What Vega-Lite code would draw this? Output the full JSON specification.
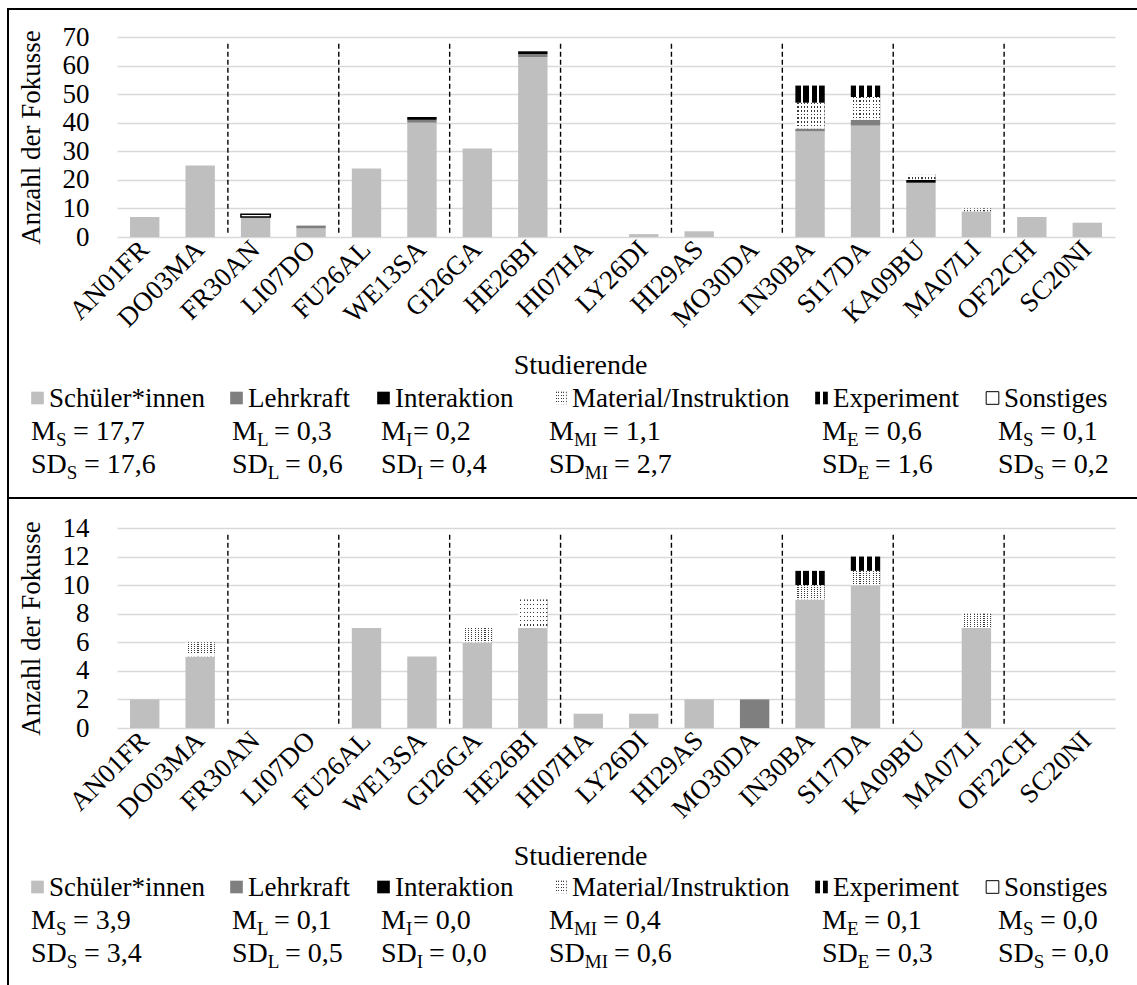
{
  "$schema": "https://vega.github.io/schema/vega-lite/v6.json",
  "padding": {"left": 7, "top": 8, "right": 0, "bottom": 0},
  "background": "white",
  "config": {
    "font": "Liberation Serif",
    "view": {"stroke": null},
    "axis": {"labelColor": "#000000", "titleColor": "#000000", "labelFont": "Liberation Serif", "titleFont": "Liberation Serif", "titleFontWeight": "normal", "domain": false, "ticks": false, "labelOverlap": false},
    "axisY": {"labelOverlap": false},
    "axisQuantitative": {"labelOverlap": false},
    "text": {"font": "Liberation Serif", "color": "#000000"}
  },
  "datasets": {
    "cats": [
      {"c": "Schüler*innen", "rank": 1},
      {"c": "Lehrkraft", "rank": 2},
      {"c": "Interaktion", "rank": 3},
      {"c": "Material/Instruktion", "rank": 4},
      {"c": "Experiment", "rank": 5},
      {"c": "Sonstiges", "rank": 6}
    ],
    "seps": [{"s": "FR30AN"}, {"s": "FU26AL"}, {"s": "GI26GA"}, {"s": "HI07HA"}, {"s": "HI29AS"}, {"s": "IN30BA"}, {"s": "KA09BU"}, {"s": "OF22CH"}],
    "top": [
      {"s": "AN01FR", "c": "Schüler*innen", "v": 7},
      {"s": "DO03MA", "c": "Schüler*innen", "v": 25},
      {"s": "FR30AN", "c": "Schüler*innen", "v": 7},
      {"s": "FR30AN", "c": "Sonstiges", "v": 1},
      {"s": "LI07DO", "c": "Schüler*innen", "v": 3},
      {"s": "LI07DO", "c": "Lehrkraft", "v": 1},
      {"s": "FU26AL", "c": "Schüler*innen", "v": 24},
      {"s": "WE13SA", "c": "Schüler*innen", "v": 40},
      {"s": "WE13SA", "c": "Lehrkraft", "v": 1},
      {"s": "WE13SA", "c": "Interaktion", "v": 1},
      {"s": "GI26GA", "c": "Schüler*innen", "v": 31},
      {"s": "HE26BI", "c": "Schüler*innen", "v": 63},
      {"s": "HE26BI", "c": "Lehrkraft", "v": 1},
      {"s": "HE26BI", "c": "Interaktion", "v": 1},
      {"s": "LY26DI", "c": "Schüler*innen", "v": 1},
      {"s": "HI29AS", "c": "Schüler*innen", "v": 2},
      {"s": "IN30BA", "c": "Schüler*innen", "v": 37},
      {"s": "IN30BA", "c": "Lehrkraft", "v": 1},
      {"s": "IN30BA", "c": "Material/Instruktion", "v": 9},
      {"s": "IN30BA", "c": "Experiment", "v": 6},
      {"s": "SI17DA", "c": "Schüler*innen", "v": 39},
      {"s": "SI17DA", "c": "Lehrkraft", "v": 2},
      {"s": "SI17DA", "c": "Material/Instruktion", "v": 8},
      {"s": "SI17DA", "c": "Experiment", "v": 4},
      {"s": "KA09BU", "c": "Schüler*innen", "v": 19},
      {"s": "KA09BU", "c": "Interaktion", "v": 1},
      {"s": "KA09BU", "c": "Material/Instruktion", "v": 2},
      {"s": "MA07LI", "c": "Schüler*innen", "v": 9},
      {"s": "MA07LI", "c": "Material/Instruktion", "v": 1},
      {"s": "OF22CH", "c": "Schüler*innen", "v": 7},
      {"s": "SC20NI", "c": "Schüler*innen", "v": 5}
    ],
    "bottom": [
      {"s": "AN01FR", "c": "Schüler*innen", "v": 2},
      {"s": "DO03MA", "c": "Schüler*innen", "v": 5},
      {"s": "DO03MA", "c": "Material/Instruktion", "v": 1},
      {"s": "FU26AL", "c": "Schüler*innen", "v": 7},
      {"s": "WE13SA", "c": "Schüler*innen", "v": 5},
      {"s": "GI26GA", "c": "Schüler*innen", "v": 6},
      {"s": "GI26GA", "c": "Material/Instruktion", "v": 1},
      {"s": "HE26BI", "c": "Schüler*innen", "v": 7},
      {"s": "HE26BI", "c": "Material/Instruktion", "v": 2},
      {"s": "HI07HA", "c": "Schüler*innen", "v": 1},
      {"s": "LY26DI", "c": "Schüler*innen", "v": 1},
      {"s": "HI29AS", "c": "Schüler*innen", "v": 2},
      {"s": "MO30DA", "c": "Lehrkraft", "v": 2},
      {"s": "IN30BA", "c": "Schüler*innen", "v": 9},
      {"s": "IN30BA", "c": "Material/Instruktion", "v": 1},
      {"s": "IN30BA", "c": "Experiment", "v": 1},
      {"s": "SI17DA", "c": "Schüler*innen", "v": 10},
      {"s": "SI17DA", "c": "Material/Instruktion", "v": 1},
      {"s": "SI17DA", "c": "Experiment", "v": 1},
      {"s": "MA07LI", "c": "Schüler*innen", "v": 7},
      {"s": "MA07LI", "c": "Material/Instruktion", "v": 1}
    ],
    "statsTop": [
      {"col": 1, "r": "M", "b": "M", "sub": "S", "val": "= 17,7"},
      {"col": 1, "r": "SD", "b": "SD", "sub": "S", "val": "= 17,6"},
      {"col": 2, "r": "M", "b": "M", "sub": "L", "val": "= 0,3"},
      {"col": 2, "r": "SD", "b": "SD", "sub": "L", "val": "= 0,6"},
      {"col": 3, "r": "M", "b": "M", "sub": "I", "val": "= 0,2"},
      {"col": 3, "r": "SD", "b": "SD", "sub": "I", "val": "= 0,4"},
      {"col": 4, "r": "M", "b": "M", "sub": "MI", "val": "= 1,1"},
      {"col": 4, "r": "SD", "b": "SD", "sub": "MI", "val": "= 2,7"},
      {"col": 5, "r": "M", "b": "M", "sub": "E", "val": "= 0,6"},
      {"col": 5, "r": "SD", "b": "SD", "sub": "E", "val": "= 1,6"},
      {"col": 6, "r": "M", "b": "M", "sub": "S", "val": "= 0,1"},
      {"col": 6, "r": "SD", "b": "SD", "sub": "S", "val": "= 0,2"}
    ],
    "statsBottom": [
      {"col": 1, "r": "M", "b": "M", "sub": "S", "val": "= 3,9"},
      {"col": 1, "r": "SD", "b": "SD", "sub": "S", "val": "= 3,4"},
      {"col": 2, "r": "M", "b": "M", "sub": "L", "val": "= 0,1"},
      {"col": 2, "r": "SD", "b": "SD", "sub": "L", "val": "= 0,5"},
      {"col": 3, "r": "M", "b": "M", "sub": "I", "val": "= 0,0"},
      {"col": 3, "r": "SD", "b": "SD", "sub": "I", "val": "= 0,0"},
      {"col": 4, "r": "M", "b": "M", "sub": "MI", "val": "= 0,4"},
      {"col": 4, "r": "SD", "b": "SD", "sub": "MI", "val": "= 0,6"},
      {"col": 5, "r": "M", "b": "M", "sub": "E", "val": "= 0,1"},
      {"col": 5, "r": "SD", "b": "SD", "sub": "E", "val": "= 0,3"},
      {"col": 6, "r": "M", "b": "M", "sub": "S", "val": "= 0,0"},
      {"col": 6, "r": "SD", "b": "SD", "sub": "S", "val": "= 0,0"}
    ]
  },
  "columns": 2,
  "align": "each",
  "bounds": "flush",
  "spacing": 0,
  "resolve": {"scale": {"x": "independent", "y": "independent"}},
  "concat": [
    {"width": 109, "height": 28, "data": {"values": []}, "mark": "point", "view": {"stroke": "#000000", "strokeWidth": 2, "strokeDash": [109, 137, 28]}},
    {"width": 1021, "height": 28, "data": {"values": []}, "mark": "point", "view": {"stroke": "#000000", "strokeWidth": 2, "strokeDash": [1021, 4000]}},
    {"width": 109, "height": 200, "data": {"values": []}, "mark": "point", "view": {"stroke": "#000000", "strokeWidth": 2, "strokeDash": [0, 418, 200]}},
    {
      "width": 998, "height": 200,
      "layer": [
        {
          "data": {"name": "top"},
          "transform": [{"lookup": "c", "from": {"data": {"name": "cats"}, "key": "c", "fields": ["rank"]}}],
          "mark": {"type": "bar", "strokeWidth": 1.5},
          "encoding": {
            "x": {"field": "s", "type": "nominal", "sort": null,
              "scale": {"domain": ["AN01FR","DO03MA","FR30AN","LI07DO","FU26AL","WE13SA","GI26GA","HE26BI","HI07HA","LY26DI","HI29AS","MO30DA","IN30BA","SI17DA","KA09BU","MA07LI","OF22CH","SC20NI"], "paddingInner": 0.47, "paddingOuter": 0.235},
              "axis": {"title": "Studierende", "labelAngle": -45, "labelAlign": "right", "labelBaseline": "middle", "labelFontSize": 27, "labelPadding": 8, "labelOverlap": false, "labelFlush": false, "titleFontSize": 28, "titleX": 463, "titleY": 136, "titleBaseline": "alphabetic", "grid": false}},
            "y": {"field": "v", "type": "quantitative", "stack": "zero",
              "scale": {"domain": [0, 70], "nice": false},
              "axis": {"title": "Anzahl der Fokusse", "values": [0, 10, 20, 30, 40, 50, 60, 70], "labelOverlap": false, "labelFontSize": 27, "labelPadding": 28, "titleFontSize": 27, "titlePadding": 17, "grid": true, "gridColor": "#d9d9d9", "gridWidth": 1.5}},
            "fill": {"field": "c", "type": "nominal", "legend": null,
              "scale": {"domain": ["Schüler*innen","Lehrkraft","Interaktion","Material/Instruktion","Experiment","Sonstiges"], "range": ["#bfbfbf","#7f7f7f","#000000","#d9d9d9","#000000","#ffffff"]},
              "condition": [
                {"test": "datum.c === 'Material/Instruktion'", "value": {"gradient": "linear", "x1": 0, "y1": 0, "x2": 1, "y2": 0, "stops": [
                  {"offset": 0, "color": "#ffffff"}, {"offset": 0.0722, "color": "#ffffff"}, {"offset": 0.0722, "color": "#3a3a3a"}, {"offset": 0.1111, "color": "#3a3a3a"},
                  {"offset": 0.1111, "color": "#ffffff"}, {"offset": 0.1833, "color": "#ffffff"}, {"offset": 0.1833, "color": "#3a3a3a"}, {"offset": 0.2222, "color": "#3a3a3a"},
                  {"offset": 0.2222, "color": "#ffffff"}, {"offset": 0.2944, "color": "#ffffff"}, {"offset": 0.2944, "color": "#3a3a3a"}, {"offset": 0.3333, "color": "#3a3a3a"},
                  {"offset": 0.3333, "color": "#ffffff"}, {"offset": 0.4055, "color": "#ffffff"}, {"offset": 0.4055, "color": "#3a3a3a"}, {"offset": 0.4444, "color": "#3a3a3a"},
                  {"offset": 0.4444, "color": "#ffffff"}, {"offset": 0.5166, "color": "#ffffff"}, {"offset": 0.5166, "color": "#3a3a3a"}, {"offset": 0.5556, "color": "#3a3a3a"},
                  {"offset": 0.5556, "color": "#ffffff"}, {"offset": 0.6277, "color": "#ffffff"}, {"offset": 0.6277, "color": "#3a3a3a"}, {"offset": 0.6667, "color": "#3a3a3a"},
                  {"offset": 0.6667, "color": "#ffffff"}, {"offset": 0.7388, "color": "#ffffff"}, {"offset": 0.7388, "color": "#3a3a3a"}, {"offset": 0.7778, "color": "#3a3a3a"},
                  {"offset": 0.7778, "color": "#ffffff"}, {"offset": 0.85, "color": "#ffffff"}, {"offset": 0.85, "color": "#3a3a3a"}, {"offset": 0.8889, "color": "#3a3a3a"},
                  {"offset": 0.8889, "color": "#ffffff"}, {"offset": 0.9611, "color": "#ffffff"}, {"offset": 0.9611, "color": "#3a3a3a"}, {"offset": 1, "color": "#3a3a3a"}]}},
                {"test": "datum.c === 'Experiment'", "value": {"gradient": "linear", "x1": 0, "y1": 0, "x2": 1, "y2": 0, "stops": [
                  {"offset": 0, "color": "#000000"}, {"offset": 0.18, "color": "#000000"}, {"offset": 0.18, "color": "#ffffff"}, {"offset": 0.27, "color": "#ffffff"},
                  {"offset": 0.27, "color": "#000000"}, {"offset": 0.45, "color": "#000000"}, {"offset": 0.45, "color": "#ffffff"}, {"offset": 0.55, "color": "#ffffff"},
                  {"offset": 0.55, "color": "#000000"}, {"offset": 0.73, "color": "#000000"}, {"offset": 0.73, "color": "#ffffff"}, {"offset": 0.82, "color": "#ffffff"},
                  {"offset": 0.82, "color": "#000000"}, {"offset": 1, "color": "#000000"}]}}
              ]},
            "stroke": {"condition": {"test": "datum.c === 'Sonstiges'", "value": "#000000"}, "value": null},
            "order": {"field": "rank", "type": "quantitative", "sort": "ascending"}
          }
        },
        {
          "data": {"name": "top"},
          "transform": [{"lookup": "c", "from": {"data": {"name": "cats"}, "key": "c", "fields": ["rank"]}}],
          "mark": {"type": "bar"},
          "encoding": {
            "x": {"field": "s", "type": "nominal", "sort": null},
            "y": {"field": "v", "type": "quantitative", "stack": "zero",
              "axis": {"title": "Anzahl der Fokusse", "values": [0, 10, 20, 30, 40, 50, 60, 70], "labelOverlap": false, "labelFontSize": 27, "labelPadding": 28, "titleFontSize": 27, "titlePadding": 17, "grid": true, "gridColor": "#d9d9d9", "gridWidth": 1.5}},
            "detail": {"field": "c"},
            "order": {"field": "rank", "type": "quantitative", "sort": "ascending"},
            "fill": {"condition": {"test": "datum.c === 'Material/Instruktion'", "value": {"gradient": "linear", "x1": 0, "y1": 0, "x2": 0, "y2": 1, "stops": [
              {"offset": 0, "color": "rgba(255,255,255,0)"}, {"offset": 0.0571, "color": "rgba(255,255,255,0)"}, {"offset": 0.0571, "color": "#ffffff"}, {"offset": 0.1429, "color": "#ffffff"},
              {"offset": 0.1429, "color": "rgba(255,255,255,0)"}, {"offset": 0.2, "color": "rgba(255,255,255,0)"}, {"offset": 0.2, "color": "#ffffff"}, {"offset": 0.2857, "color": "#ffffff"},
              {"offset": 0.2857, "color": "rgba(255,255,255,0)"}, {"offset": 0.3429, "color": "rgba(255,255,255,0)"}, {"offset": 0.3429, "color": "#ffffff"}, {"offset": 0.4286, "color": "#ffffff"},
              {"offset": 0.4286, "color": "rgba(255,255,255,0)"}, {"offset": 0.4857, "color": "rgba(255,255,255,0)"}, {"offset": 0.4857, "color": "#ffffff"}, {"offset": 0.5714, "color": "#ffffff"},
              {"offset": 0.5714, "color": "rgba(255,255,255,0)"}, {"offset": 0.6286, "color": "rgba(255,255,255,0)"}, {"offset": 0.6286, "color": "#ffffff"}, {"offset": 0.7143, "color": "#ffffff"},
              {"offset": 0.7143, "color": "rgba(255,255,255,0)"}, {"offset": 0.7714, "color": "rgba(255,255,255,0)"}, {"offset": 0.7714, "color": "#ffffff"}, {"offset": 0.8571, "color": "#ffffff"},
              {"offset": 0.8571, "color": "rgba(255,255,255,0)"}, {"offset": 0.9143, "color": "rgba(255,255,255,0)"}, {"offset": 0.9143, "color": "#ffffff"}, {"offset": 1, "color": "#ffffff"}]}}, "value": "transparent"}
          }
        },
        {
          "data": {"name": "seps"},
          "mark": {"type": "rule", "color": "#000000", "strokeWidth": 1.4, "strokeDash": [5, 3], "xOffset": -13.03},
          "encoding": {
            "x": {"field": "s", "type": "nominal", "bandPosition": 0},
            "y": {"datum": 1.5, "type": "quantitative",
              "axis": {"title": "Anzahl der Fokusse", "values": [0, 10, 20, 30, 40, 50, 60, 70], "labelOverlap": false, "labelFontSize": 27, "labelPadding": 28, "titleFontSize": 27, "titlePadding": 17, "grid": true, "gridColor": "#d9d9d9", "gridWidth": 1.5}},
            "y2": {"datum": 68.5}
          }
        }
      ]
    },
    {"width": 109, "height": 261, "data": {"values": []}, "mark": "point", "view": {"stroke": "#000000", "strokeWidth": 2, "strokeDash": [0, 479, 261]}},
    {
      "width": 1021, "height": 261,
      "resolve": {"scale": {"x": "independent"}},
      "layer": [
        {
          "data": {"name": "cats"},
          "layer": [
            {
              "mark": {"type": "square", "size": 160, "xOffset": 6.5, "yOffset": -9, "strokeWidth": 1, "opacity": 1, "filled": true},
              "encoding": {
                "x": {"field": "rank", "type": "quantitative", "scale": {"domain": [1, 2, 3, 4, 5, 6], "range": [-86, 113, 260, 437, 698, 869], "zero": false, "nice": false}, "axis": null},
                "y": {"datum": "leg", "type": "nominal", "scale": {"type": "point", "domain": ["leg", "M", "SD"], "range": [170, 236], "padding": 0}, "axis": null},
                "fill": {"field": "c", "type": "nominal", "legend": null,
                  "scale": {"domain": ["Schüler*innen","Lehrkraft","Interaktion","Material/Instruktion","Experiment","Sonstiges"], "range": ["#bfbfbf","#7f7f7f","#000000","#d9d9d9","#000000","#ffffff"]},
                  "condition": [
                    {"test": "datum.c === 'Material/Instruktion'", "value": {"gradient": "linear", "x1": 0, "y1": 0, "x2": 1, "y2": 0, "stops": [
                      {"offset": 0, "color": "#ffffff"}, {"offset": 0.13, "color": "#ffffff"}, {"offset": 0.13, "color": "#3a3a3a"}, {"offset": 0.2, "color": "#3a3a3a"},
                      {"offset": 0.2, "color": "#ffffff"}, {"offset": 0.33, "color": "#ffffff"}, {"offset": 0.33, "color": "#3a3a3a"}, {"offset": 0.4, "color": "#3a3a3a"},
                      {"offset": 0.4, "color": "#ffffff"}, {"offset": 0.53, "color": "#ffffff"}, {"offset": 0.53, "color": "#3a3a3a"}, {"offset": 0.6, "color": "#3a3a3a"},
                      {"offset": 0.6, "color": "#ffffff"}, {"offset": 0.73, "color": "#ffffff"}, {"offset": 0.73, "color": "#3a3a3a"}, {"offset": 0.8, "color": "#3a3a3a"},
                      {"offset": 0.8, "color": "#ffffff"}, {"offset": 0.93, "color": "#ffffff"}, {"offset": 0.93, "color": "#3a3a3a"}, {"offset": 1, "color": "#3a3a3a"}]}},
                    {"test": "datum.c === 'Experiment'", "value": {"gradient": "linear", "x1": 0, "y1": 0, "x2": 1, "y2": 0, "stops": [
                      {"offset": 0, "color": "#000000"}, {"offset": 0.38, "color": "#000000"}, {"offset": 0.38, "color": "#ffffff"}, {"offset": 0.62, "color": "#ffffff"},
                      {"offset": 0.62, "color": "#000000"}, {"offset": 1, "color": "#000000"}]}}
                  ]},
                "stroke": {"condition": {"test": "datum.c === 'Sonstiges'", "value": "#000000"}, "value": null}
              }
            },
            {
              "transform": [{"filter": "datum.c === 'Material/Instruktion'"}],
              "mark": {"type": "square", "size": 160, "xOffset": 6.5, "yOffset": -9, "opacity": 1, "filled": true},
              "encoding": {
                "x": {"field": "rank", "type": "quantitative"},
                "y": {"datum": "leg", "type": "nominal"},
                "fill": {"value": {"gradient": "linear", "x1": 0, "y1": 0, "x2": 0, "y2": 1, "stops": [
                  {"offset": 0, "color": "rgba(255,255,255,0)"}, {"offset": 0.1, "color": "rgba(255,255,255,0)"}, {"offset": 0.1, "color": "#ffffff"}, {"offset": 0.25, "color": "#ffffff"},
                  {"offset": 0.25, "color": "rgba(255,255,255,0)"}, {"offset": 0.35, "color": "rgba(255,255,255,0)"}, {"offset": 0.35, "color": "#ffffff"}, {"offset": 0.5, "color": "#ffffff"},
                  {"offset": 0.5, "color": "rgba(255,255,255,0)"}, {"offset": 0.6, "color": "rgba(255,255,255,0)"}, {"offset": 0.6, "color": "#ffffff"}, {"offset": 0.75, "color": "#ffffff"},
                  {"offset": 0.75, "color": "rgba(255,255,255,0)"}, {"offset": 0.85, "color": "rgba(255,255,255,0)"}, {"offset": 0.85, "color": "#ffffff"}, {"offset": 1, "color": "#ffffff"}]}}
              }
            },
            {
              "mark": {"type": "text", "align": "left", "baseline": "alphabetic", "dx": 18, "fontSize": 27},
              "encoding": {
                "x": {"field": "rank", "type": "quantitative"},
                "y": {"datum": "leg", "type": "nominal"},
                "text": {"field": "c"}
              }
            }
          ]
        },
        {
          "data": {"name": "statsTop"},
          "encoding": {
            "x": {"field": "col", "type": "quantitative", "scale": {"domain": [1, 2, 3, 4, 5, 6], "range": [-86, 115, 264, 432, 705, 881], "zero": false, "nice": false}, "axis": null},
            "y": {"field": "r", "type": "nominal"}
          },
          "layer": [
            {"mark": {"type": "text", "align": "left", "baseline": "alphabetic", "fontSize": 28}, "encoding": {"text": {"field": "b"}}},
            {"transform": [{"filter": "datum.r === 'M'"}], "mark": {"type": "text", "align": "left", "baseline": "alphabetic", "fontSize": 19, "dx": 24.9, "dy": 6}, "encoding": {"text": {"field": "sub"}}},
            {"transform": [{"filter": "datum.r === 'SD'"}], "mark": {"type": "text", "align": "left", "baseline": "alphabetic", "fontSize": 19, "dx": 35.8, "dy": 6}, "encoding": {"text": {"field": "sub"}}},
            {"transform": [{"filter": "datum.r === 'M' && (datum.sub === 'S' || datum.sub === 'L' || datum.sub === 'E')"}], "mark": {"type": "text", "align": "left", "baseline": "alphabetic", "fontSize": 28, "dx": 42}, "encoding": {"text": {"field": "val"}}},
            {"transform": [{"filter": "datum.r === 'M' && datum.sub === 'I'"}], "mark": {"type": "text", "align": "left", "baseline": "alphabetic", "fontSize": 28, "dx": 32}, "encoding": {"text": {"field": "val"}}},
            {"transform": [{"filter": "datum.r === 'M' && datum.sub === 'MI'"}], "mark": {"type": "text", "align": "left", "baseline": "alphabetic", "fontSize": 28, "dx": 54}, "encoding": {"text": {"field": "val"}}},
            {"transform": [{"filter": "datum.r === 'SD' && (datum.sub === 'S' || datum.sub === 'L' || datum.sub === 'E')"}], "mark": {"type": "text", "align": "left", "baseline": "alphabetic", "fontSize": 28, "dx": 53}, "encoding": {"text": {"field": "val"}}},
            {"transform": [{"filter": "datum.r === 'SD' && datum.sub === 'I'"}], "mark": {"type": "text", "align": "left", "baseline": "alphabetic", "fontSize": 28, "dx": 48}, "encoding": {"text": {"field": "val"}}},
            {"transform": [{"filter": "datum.r === 'SD' && datum.sub === 'MI'"}], "mark": {"type": "text", "align": "left", "baseline": "alphabetic", "fontSize": 28, "dx": 65}, "encoding": {"text": {"field": "val"}}}
          ]
        }
      ]
    },
    {"width": 109, "height": 30, "data": {"values": []}, "mark": "point", "view": {"stroke": "#000000", "strokeWidth": 2, "strokeDash": [109, 139, 30]}},
    {"width": 1021, "height": 30, "data": {"values": []}, "mark": "point", "view": {"stroke": "#000000", "strokeWidth": 2, "strokeDash": [1021, 4000]}},
    {"width": 109, "height": 200, "data": {"values": []}, "mark": "point", "view": {"stroke": "#000000", "strokeWidth": 2, "strokeDash": [0, 418, 200]}},
    {
      "width": 998, "height": 200,
      "layer": [
        {
          "data": {"name": "bottom"},
          "transform": [{"lookup": "c", "from": {"data": {"name": "cats"}, "key": "c", "fields": ["rank"]}}],
          "mark": {"type": "bar", "strokeWidth": 1.5},
          "encoding": {
            "x": {"field": "s", "type": "nominal", "sort": null,
              "scale": {"domain": ["AN01FR","DO03MA","FR30AN","LI07DO","FU26AL","WE13SA","GI26GA","HE26BI","HI07HA","LY26DI","HI29AS","MO30DA","IN30BA","SI17DA","KA09BU","MA07LI","OF22CH","SC20NI"], "paddingInner": 0.47, "paddingOuter": 0.235},
              "axis": {"title": "Studierende", "labelAngle": -45, "labelAlign": "right", "labelBaseline": "middle", "labelFontSize": 27, "labelPadding": 8, "labelOverlap": false, "labelFlush": false, "titleFontSize": 28, "titleX": 463, "titleY": 136, "titleBaseline": "alphabetic", "grid": false}},
            "y": {"field": "v", "type": "quantitative", "stack": "zero",
              "scale": {"domain": [0, 14], "nice": false},
              "axis": {"title": "Anzahl der Fokusse", "values": [0, 2, 4, 6, 8, 10, 12, 14], "labelOverlap": false, "labelFontSize": 27, "labelPadding": 28, "titleFontSize": 27, "titlePadding": 17, "grid": true, "gridColor": "#d9d9d9", "gridWidth": 1.5}},
            "fill": {"field": "c", "type": "nominal", "legend": null,
              "scale": {"domain": ["Schüler*innen","Lehrkraft","Interaktion","Material/Instruktion","Experiment","Sonstiges"], "range": ["#bfbfbf","#7f7f7f","#000000","#d9d9d9","#000000","#ffffff"]},
              "condition": [
                {"test": "datum.c === 'Material/Instruktion'", "value": {"gradient": "linear", "x1": 0, "y1": 0, "x2": 1, "y2": 0, "stops": [
                  {"offset": 0, "color": "#ffffff"}, {"offset": 0.0722, "color": "#ffffff"}, {"offset": 0.0722, "color": "#3a3a3a"}, {"offset": 0.1111, "color": "#3a3a3a"},
                  {"offset": 0.1111, "color": "#ffffff"}, {"offset": 0.1833, "color": "#ffffff"}, {"offset": 0.1833, "color": "#3a3a3a"}, {"offset": 0.2222, "color": "#3a3a3a"},
                  {"offset": 0.2222, "color": "#ffffff"}, {"offset": 0.2944, "color": "#ffffff"}, {"offset": 0.2944, "color": "#3a3a3a"}, {"offset": 0.3333, "color": "#3a3a3a"},
                  {"offset": 0.3333, "color": "#ffffff"}, {"offset": 0.4055, "color": "#ffffff"}, {"offset": 0.4055, "color": "#3a3a3a"}, {"offset": 0.4444, "color": "#3a3a3a"},
                  {"offset": 0.4444, "color": "#ffffff"}, {"offset": 0.5166, "color": "#ffffff"}, {"offset": 0.5166, "color": "#3a3a3a"}, {"offset": 0.5556, "color": "#3a3a3a"},
                  {"offset": 0.5556, "color": "#ffffff"}, {"offset": 0.6277, "color": "#ffffff"}, {"offset": 0.6277, "color": "#3a3a3a"}, {"offset": 0.6667, "color": "#3a3a3a"},
                  {"offset": 0.6667, "color": "#ffffff"}, {"offset": 0.7388, "color": "#ffffff"}, {"offset": 0.7388, "color": "#3a3a3a"}, {"offset": 0.7778, "color": "#3a3a3a"},
                  {"offset": 0.7778, "color": "#ffffff"}, {"offset": 0.85, "color": "#ffffff"}, {"offset": 0.85, "color": "#3a3a3a"}, {"offset": 0.8889, "color": "#3a3a3a"},
                  {"offset": 0.8889, "color": "#ffffff"}, {"offset": 0.9611, "color": "#ffffff"}, {"offset": 0.9611, "color": "#3a3a3a"}, {"offset": 1, "color": "#3a3a3a"}]}},
                {"test": "datum.c === 'Experiment'", "value": {"gradient": "linear", "x1": 0, "y1": 0, "x2": 1, "y2": 0, "stops": [
                  {"offset": 0, "color": "#000000"}, {"offset": 0.18, "color": "#000000"}, {"offset": 0.18, "color": "#ffffff"}, {"offset": 0.27, "color": "#ffffff"},
                  {"offset": 0.27, "color": "#000000"}, {"offset": 0.45, "color": "#000000"}, {"offset": 0.45, "color": "#ffffff"}, {"offset": 0.55, "color": "#ffffff"},
                  {"offset": 0.55, "color": "#000000"}, {"offset": 0.73, "color": "#000000"}, {"offset": 0.73, "color": "#ffffff"}, {"offset": 0.82, "color": "#ffffff"},
                  {"offset": 0.82, "color": "#000000"}, {"offset": 1, "color": "#000000"}]}}
              ]},
            "stroke": {"condition": {"test": "datum.c === 'Sonstiges'", "value": "#000000"}, "value": null},
            "order": {"field": "rank", "type": "quantitative", "sort": "ascending"}
          }
        },
        {
          "data": {"name": "bottom"},
          "transform": [{"lookup": "c", "from": {"data": {"name": "cats"}, "key": "c", "fields": ["rank"]}}],
          "mark": {"type": "bar"},
          "encoding": {
            "x": {"field": "s", "type": "nominal", "sort": null},
            "y": {"field": "v", "type": "quantitative", "stack": "zero",
              "axis": {"title": "Anzahl der Fokusse", "values": [0, 2, 4, 6, 8, 10, 12, 14], "labelOverlap": false, "labelFontSize": 27, "labelPadding": 28, "titleFontSize": 27, "titlePadding": 17, "grid": true, "gridColor": "#d9d9d9", "gridWidth": 1.5}},
            "detail": {"field": "c"},
            "order": {"field": "rank", "type": "quantitative", "sort": "ascending"},
            "fill": {"condition": {"test": "datum.c === 'Material/Instruktion'", "value": {"gradient": "linear", "x1": 0, "y1": 0, "x2": 0, "y2": 1, "stops": [
              {"offset": 0, "color": "rgba(255,255,255,0)"}, {"offset": 0.0571, "color": "rgba(255,255,255,0)"}, {"offset": 0.0571, "color": "#ffffff"}, {"offset": 0.1429, "color": "#ffffff"},
              {"offset": 0.1429, "color": "rgba(255,255,255,0)"}, {"offset": 0.2, "color": "rgba(255,255,255,0)"}, {"offset": 0.2, "color": "#ffffff"}, {"offset": 0.2857, "color": "#ffffff"},
              {"offset": 0.2857, "color": "rgba(255,255,255,0)"}, {"offset": 0.3429, "color": "rgba(255,255,255,0)"}, {"offset": 0.3429, "color": "#ffffff"}, {"offset": 0.4286, "color": "#ffffff"},
              {"offset": 0.4286, "color": "rgba(255,255,255,0)"}, {"offset": 0.4857, "color": "rgba(255,255,255,0)"}, {"offset": 0.4857, "color": "#ffffff"}, {"offset": 0.5714, "color": "#ffffff"},
              {"offset": 0.5714, "color": "rgba(255,255,255,0)"}, {"offset": 0.6286, "color": "rgba(255,255,255,0)"}, {"offset": 0.6286, "color": "#ffffff"}, {"offset": 0.7143, "color": "#ffffff"},
              {"offset": 0.7143, "color": "rgba(255,255,255,0)"}, {"offset": 0.7714, "color": "rgba(255,255,255,0)"}, {"offset": 0.7714, "color": "#ffffff"}, {"offset": 0.8571, "color": "#ffffff"},
              {"offset": 0.8571, "color": "rgba(255,255,255,0)"}, {"offset": 0.9143, "color": "rgba(255,255,255,0)"}, {"offset": 0.9143, "color": "#ffffff"}, {"offset": 1, "color": "#ffffff"}]}}, "value": "transparent"}
          }
        },
        {
          "data": {"name": "seps"},
          "mark": {"type": "rule", "color": "#000000", "strokeWidth": 1.4, "strokeDash": [5, 3], "xOffset": -13.03},
          "encoding": {
            "x": {"field": "s", "type": "nominal", "bandPosition": 0},
            "y": {"datum": 0.3, "type": "quantitative",
              "axis": {"title": "Anzahl der Fokusse", "values": [0, 2, 4, 6, 8, 10, 12, 14], "labelOverlap": false, "labelFontSize": 27, "labelPadding": 28, "titleFontSize": 27, "titlePadding": 17, "grid": true, "gridColor": "#d9d9d9", "gridWidth": 1.5}},
            "y2": {"datum": 13.7}
          }
        }
      ]
    },
    {"width": 109, "height": 257, "data": {"values": []}, "mark": "point", "view": {"stroke": "#000000", "strokeWidth": 2, "strokeDash": [0, 475, 257]}},
    {
      "width": 1021, "height": 257,
      "resolve": {"scale": {"x": "independent"}},
      "layer": [
        {
          "data": {"name": "cats"},
          "layer": [
            {
              "mark": {"type": "square", "size": 160, "xOffset": 6.5, "yOffset": -9, "strokeWidth": 1, "opacity": 1, "filled": true},
              "encoding": {
                "x": {"field": "rank", "type": "quantitative", "scale": {"domain": [1, 2, 3, 4, 5, 6], "range": [-86, 113, 260, 437, 698, 869], "zero": false, "nice": false}, "axis": null},
                "y": {"datum": "leg", "type": "nominal", "scale": {"type": "point", "domain": ["leg", "M", "SD"], "range": [168, 234], "padding": 0}, "axis": null},
                "fill": {"field": "c", "type": "nominal", "legend": null,
                  "scale": {"domain": ["Schüler*innen","Lehrkraft","Interaktion","Material/Instruktion","Experiment","Sonstiges"], "range": ["#bfbfbf","#7f7f7f","#000000","#d9d9d9","#000000","#ffffff"]},
                  "condition": [
                    {"test": "datum.c === 'Material/Instruktion'", "value": {"gradient": "linear", "x1": 0, "y1": 0, "x2": 1, "y2": 0, "stops": [
                      {"offset": 0, "color": "#ffffff"}, {"offset": 0.13, "color": "#ffffff"}, {"offset": 0.13, "color": "#3a3a3a"}, {"offset": 0.2, "color": "#3a3a3a"},
                      {"offset": 0.2, "color": "#ffffff"}, {"offset": 0.33, "color": "#ffffff"}, {"offset": 0.33, "color": "#3a3a3a"}, {"offset": 0.4, "color": "#3a3a3a"},
                      {"offset": 0.4, "color": "#ffffff"}, {"offset": 0.53, "color": "#ffffff"}, {"offset": 0.53, "color": "#3a3a3a"}, {"offset": 0.6, "color": "#3a3a3a"},
                      {"offset": 0.6, "color": "#ffffff"}, {"offset": 0.73, "color": "#ffffff"}, {"offset": 0.73, "color": "#3a3a3a"}, {"offset": 0.8, "color": "#3a3a3a"},
                      {"offset": 0.8, "color": "#ffffff"}, {"offset": 0.93, "color": "#ffffff"}, {"offset": 0.93, "color": "#3a3a3a"}, {"offset": 1, "color": "#3a3a3a"}]}},
                    {"test": "datum.c === 'Experiment'", "value": {"gradient": "linear", "x1": 0, "y1": 0, "x2": 1, "y2": 0, "stops": [
                      {"offset": 0, "color": "#000000"}, {"offset": 0.38, "color": "#000000"}, {"offset": 0.38, "color": "#ffffff"}, {"offset": 0.62, "color": "#ffffff"},
                      {"offset": 0.62, "color": "#000000"}, {"offset": 1, "color": "#000000"}]}}
                  ]},
                "stroke": {"condition": {"test": "datum.c === 'Sonstiges'", "value": "#000000"}, "value": null}
              }
            },
            {
              "transform": [{"filter": "datum.c === 'Material/Instruktion'"}],
              "mark": {"type": "square", "size": 160, "xOffset": 6.5, "yOffset": -9, "opacity": 1, "filled": true},
              "encoding": {
                "x": {"field": "rank", "type": "quantitative"},
                "y": {"datum": "leg", "type": "nominal"},
                "fill": {"value": {"gradient": "linear", "x1": 0, "y1": 0, "x2": 0, "y2": 1, "stops": [
                  {"offset": 0, "color": "rgba(255,255,255,0)"}, {"offset": 0.1, "color": "rgba(255,255,255,0)"}, {"offset": 0.1, "color": "#ffffff"}, {"offset": 0.25, "color": "#ffffff"},
                  {"offset": 0.25, "color": "rgba(255,255,255,0)"}, {"offset": 0.35, "color": "rgba(255,255,255,0)"}, {"offset": 0.35, "color": "#ffffff"}, {"offset": 0.5, "color": "#ffffff"},
                  {"offset": 0.5, "color": "rgba(255,255,255,0)"}, {"offset": 0.6, "color": "rgba(255,255,255,0)"}, {"offset": 0.6, "color": "#ffffff"}, {"offset": 0.75, "color": "#ffffff"},
                  {"offset": 0.75, "color": "rgba(255,255,255,0)"}, {"offset": 0.85, "color": "rgba(255,255,255,0)"}, {"offset": 0.85, "color": "#ffffff"}, {"offset": 1, "color": "#ffffff"}]}}
              }
            },
            {
              "mark": {"type": "text", "align": "left", "baseline": "alphabetic", "dx": 18, "fontSize": 27},
              "encoding": {
                "x": {"field": "rank", "type": "quantitative"},
                "y": {"datum": "leg", "type": "nominal"},
                "text": {"field": "c"}
              }
            }
          ]
        },
        {
          "data": {"name": "statsBottom"},
          "encoding": {
            "x": {"field": "col", "type": "quantitative", "scale": {"domain": [1, 2, 3, 4, 5, 6], "range": [-86, 115, 264, 432, 705, 881], "zero": false, "nice": false}, "axis": null},
            "y": {"field": "r", "type": "nominal"}
          },
          "layer": [
            {"mark": {"type": "text", "align": "left", "baseline": "alphabetic", "fontSize": 28}, "encoding": {"text": {"field": "b"}}},
            {"transform": [{"filter": "datum.r === 'M'"}], "mark": {"type": "text", "align": "left", "baseline": "alphabetic", "fontSize": 19, "dx": 24.9, "dy": 6}, "encoding": {"text": {"field": "sub"}}},
            {"transform": [{"filter": "datum.r === 'SD'"}], "mark": {"type": "text", "align": "left", "baseline": "alphabetic", "fontSize": 19, "dx": 35.8, "dy": 6}, "encoding": {"text": {"field": "sub"}}},
            {"transform": [{"filter": "datum.r === 'M' && (datum.sub === 'S' || datum.sub === 'L' || datum.sub === 'E')"}], "mark": {"type": "text", "align": "left", "baseline": "alphabetic", "fontSize": 28, "dx": 42}, "encoding": {"text": {"field": "val"}}},
            {"transform": [{"filter": "datum.r === 'M' && datum.sub === 'I'"}], "mark": {"type": "text", "align": "left", "baseline": "alphabetic", "fontSize": 28, "dx": 32}, "encoding": {"text": {"field": "val"}}},
            {"transform": [{"filter": "datum.r === 'M' && datum.sub === 'MI'"}], "mark": {"type": "text", "align": "left", "baseline": "alphabetic", "fontSize": 28, "dx": 54}, "encoding": {"text": {"field": "val"}}},
            {"transform": [{"filter": "datum.r === 'SD' && (datum.sub === 'S' || datum.sub === 'L' || datum.sub === 'E')"}], "mark": {"type": "text", "align": "left", "baseline": "alphabetic", "fontSize": 28, "dx": 53}, "encoding": {"text": {"field": "val"}}},
            {"transform": [{"filter": "datum.r === 'SD' && datum.sub === 'I'"}], "mark": {"type": "text", "align": "left", "baseline": "alphabetic", "fontSize": 28, "dx": 48}, "encoding": {"text": {"field": "val"}}},
            {"transform": [{"filter": "datum.r === 'SD' && datum.sub === 'MI'"}], "mark": {"type": "text", "align": "left", "baseline": "alphabetic", "fontSize": 28, "dx": 65}, "encoding": {"text": {"field": "val"}}}
          ]
        }
      ]
    }
  ]
}
